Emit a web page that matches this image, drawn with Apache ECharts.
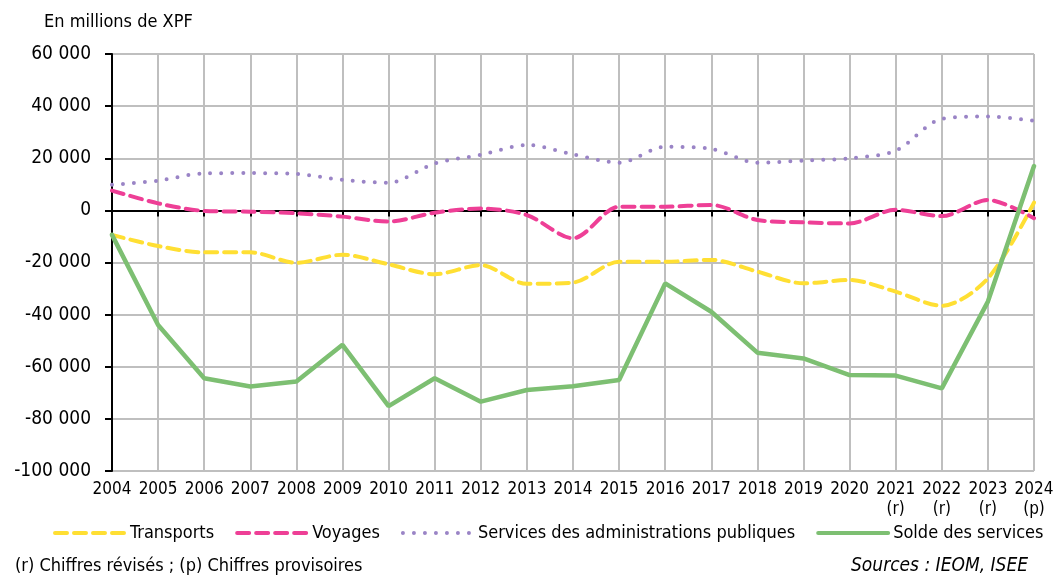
<!DOCTYPE html>
<html>
<head>
<meta charset="utf-8">
<script src="https://cdn.jsdelivr.net/npm/echarts@6/dist/echarts.min.js"></script>
<style>html,body{margin:0;padding:0;background:#fff;}#c{width:1058px;height:575px;}</style>
</head>
<body>
<div id="c"></div>
<script>
const years = ['2004','2005','2006','2007','2008','2009','2010','2011','2012','2013','2014','2015','2016','2017','2018','2019','2020','2021\n(r)','2022\n(r)','2023\n(r)','2024\n(p)'];
const transports = [-9400,-13700,-16100,-16100,-20100,-17000,-20700,-24500,-21000,-28200,-27700,-19700,-19700,-19000,-23500,-28000,-26700,-31200,-36600,-26100,3000];
const voyages = [7600,2700,-200,-500,-1100,-2400,-4300,-900,700,-1800,-10700,1400,1400,2100,-3700,-4600,-5000,200,-2200,4000,-3000];
const adminPub = [9800,11400,14200,14300,14000,11700,10600,18000,21300,25100,21500,18300,24400,23600,18300,19100,20000,22900,35100,36000,34400];
const solde = [-9400,-44000,-64400,-67600,-65700,-51600,-75100,-64400,-73400,-68900,-67500,-65100,-28000,-38900,-54600,-56800,-63200,-63400,-68300,-35000,17000];
const seriesNames = ['Transports','Voyages','Services des administrations publiques','Solde des services'];
const yTicks = {min:-100000, max:60000, interval:20000};

const FONT = "'DejaVu Sans Condensed','DejaVu Sans',sans-serif";
const fmt = v => { const s = Math.abs(v).toString().replace(/\B(?=(\d{3})+(?!\d))/g,' '); return (v<0?'-':'')+s; };

const chart = echarts.init(document.getElementById('c'), null, {renderer:'canvas'});
chart.setOption({
  animation:false,
  textStyle:{fontFamily:FONT,color:'#000'},
  title:{text:'En millions de XPF',left:39,top:8,textStyle:{fontFamily:FONT,fontSize:18,fontWeight:'normal',color:'#000'}},
  grid:{left:112,right:24,top:54,bottom:104,containLabel:false},
  legend:{
    left:48, top:519, itemWidth:70, itemHeight:12, itemGap:21,
    itemStyle:{opacity:0},
    lineStyle:{width:4},
    textStyle:{fontFamily:FONT,fontSize:18,color:'#000'},
    data:seriesNames
  },
  xAxis:[
    {type:'category',data:years,boundaryGap:false,position:'bottom',
     axisLine:{show:false,onZero:false},axisTick:{show:false},
     axisLabel:{fontFamily:FONT,fontSize:17,color:'#000',margin:9,lineHeight:20,interval:0},
     splitLine:{show:true,lineStyle:{color:'#bfbfbf',width:2}}},
    {type:'category',data:years,boundaryGap:false,position:'bottom',
     axisLine:{show:true,onZero:true,lineStyle:{color:'#000',width:2}},
     axisTick:{show:true,length:6,inside:false,interval:0,lineStyle:{color:'#000',width:2}},
     axisLabel:{show:false},splitLine:{show:false}}
  ],
  yAxis:{type:'value',min:yTicks.min,max:yTicks.max,interval:yTicks.interval,
    axisLine:{show:true,lineStyle:{color:'#000',width:2}},
    axisTick:{show:true,length:7,lineStyle:{color:'#000',width:2}},
    axisLabel:{fontFamily:FONT,fontSize:19,color:'#000',margin:21,formatter:fmt},
    splitLine:{show:true,lineStyle:{color:'#bfbfbf',width:2}}},
  series:[
    {name:seriesNames[0],type:'line',data:transports,smooth:0.3,symbol:'none',z:3,
     itemStyle:{color:'#ffdf33'},
     lineStyle:{color:'#ffdf33',width:4,type:[12,7],cap:'round'}},
    {name:seriesNames[1],type:'line',data:voyages,smooth:0.3,symbol:'none',z:3,
     itemStyle:{color:'#ee3f96'},
     lineStyle:{color:'#ee3f96',width:4,type:[12,7],cap:'round'}},
    {name:seriesNames[2],type:'line',data:adminPub,smooth:0.3,symbol:'none',z:3,
     itemStyle:{color:'#9a84c6'},
     lineStyle:{color:'#9a84c6',width:4,type:[0,11],cap:'round'}},
    {name:seriesNames[3],type:'line',data:solde,smooth:false,symbol:'none',z:4,
     itemStyle:{color:'#7dbf72'},
     lineStyle:{color:'#7dbf72',width:4.5,cap:'round'}}
  ],
  graphic:[
    {type:'text',left:15,top:557,style:{text:'(r) Chiffres révisés ; (p) Chiffres provisoires',font:"18px "+FONT,fill:'#000'}},
    {type:'text',right:30,top:557,style:{text:'Sources : IEOM, ISEE',font:"italic 19px "+FONT,fill:'#000'}}
  ]
});
</script>
</body>
</html>
